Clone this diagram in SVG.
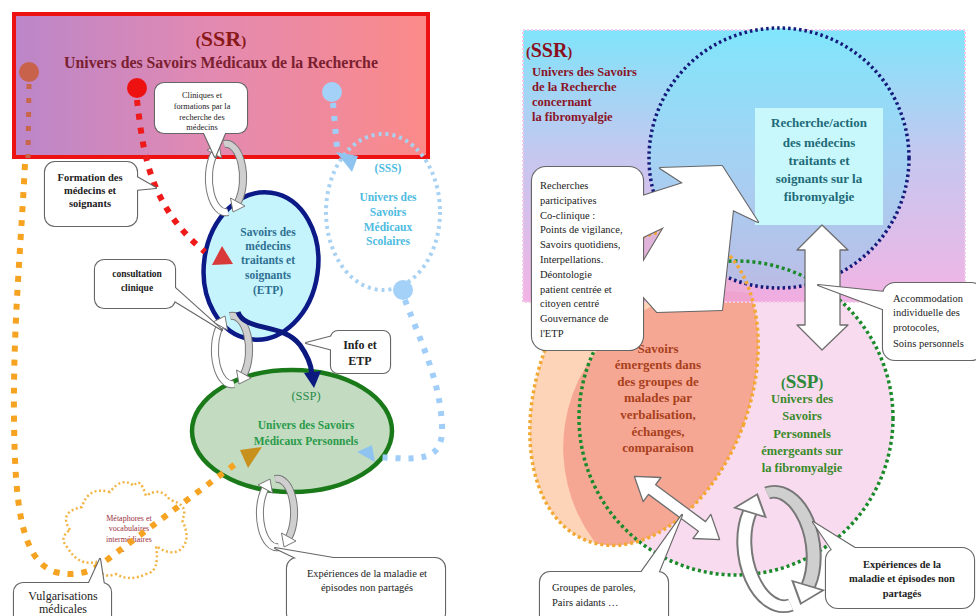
<svg xmlns="http://www.w3.org/2000/svg" width="976" height="616" viewBox="0 0 976 616">
<style>
text{font-family:"Liberation Serif","Times New Roman",serif}
.b{font-weight:bold}
.cs{fill:#fff;stroke:#666;stroke-width:2.2;stroke-linejoin:round}
.cf{fill:#fff;stroke:none}
.ct{fill:#222}
.dA{fill:#fff;stroke:#6e6e6e;stroke-width:1.3;stroke-linejoin:round}
.dot{fill:none}
</style>
<defs>
<linearGradient id="gSSR" x1="0" y1="0" x2="1" y2="0">
<stop offset="0" stop-color="#bb86c9"/><stop offset="0.5" stop-color="#e48ab0"/><stop offset="1" stop-color="#fb8a88"/>
</linearGradient>
<linearGradient id="gR" x1="0" y1="0" x2="0" y2="1">
<stop offset="0" stop-color="#60ddf9"/><stop offset="0.45" stop-color="#b5baec"/><stop offset="1" stop-color="#efa1dd"/>
</linearGradient>
<linearGradient id="gNavy" gradientUnits="userSpaceOnUse" x1="0" y1="28" x2="0" y2="288">
<stop offset="0" stop-color="#80e6fb"/><stop offset="0.5" stop-color="#9ed4f4"/><stop offset="1" stop-color="#b2bee6"/>
</linearGradient>
<clipPath id="cpGreen"><circle cx="736" cy="418" r="157"/></clipPath>
<g id="cyc">
<path d="M-2 -34 A17 34 0 0 1 12 24" fill="none" stroke="#777" stroke-width="8"/>
<path d="M-2 -34 A17 34 0 0 1 12 24" fill="none" stroke="#cfcfcf" stroke-width="6"/>
<polygon points="7,34 19,28 4.5,20" fill="#fff" stroke="#777" stroke-width="1"/>
<path d="M2 34 A17 34 0 0 1 -12 -24" fill="none" stroke="#777" stroke-width="8"/>
<path d="M2 34 A17 34 0 0 1 -12 -24" fill="none" stroke="#fff" stroke-width="6"/>
<polygon points="-7,-34 -4.5,-20 -19,-28" fill="#fff" stroke="#777" stroke-width="1"/>
</g>
</defs>
<rect width="976" height="616" fill="#fff"/>

<!-- ================= LEFT PANEL ================= -->
<g id="n-ssr-left">
<rect x="14" y="14" width="414" height="143" fill="url(#gSSR)" stroke="#ee1111" stroke-width="4"/>
<text x="221" y="46" text-anchor="middle" class="b" font-size="22" fill="#8a1a1a"><tspan font-size="15">(</tspan>SSR<tspan font-size="15">)</tspan></text>
<text x="221" y="68" text-anchor="middle" class="b" font-size="15.8" fill="#7a2030">Univers des Savoirs Médicaux de la Recherche</text>
<circle cx="29" cy="72" r="10" fill="#c8624a"/>
<circle cx="137" cy="88" r="10" fill="#ee1111"/>
<circle cx="332" cy="92" r="10" fill="#a3d1f8"/>
</g>

<g id="n-sss">
<ellipse cx="383" cy="212" rx="57" ry="78" fill="none" stroke="#a9d2f2" stroke-width="4" stroke-dasharray="3 4"/>
<circle cx="403" cy="290" r="10" fill="#a3d1f8"/>
<g class="b" font-size="11.5" fill="#4ebbe0" text-anchor="middle">
<text x="388" y="172">(SSS)</text>
<text x="388" y="201">Univers des</text>
<text x="388" y="216">Savoirs</text>
<text x="388" y="231">Médicaux</text>
<text x="388" y="245">Scolaires</text>
</g>
</g>

<g id="n-etp">
<ellipse cx="261" cy="266" rx="57" ry="74" transform="rotate(8 261 266)" fill="#c6f4fc" stroke="#0c1a88" stroke-width="4.5"/>
<g class="b" font-size="11.5" fill="#2e7092" text-anchor="middle">
<text x="268" y="236">Savoirs des</text>
<text x="268" y="250">médecins</text>
<text x="268" y="264">traitants et</text>
<text x="268" y="279">soignants</text>
<text x="268" y="294">(ETP)</text>
</g>
</g>

<g id="n-ssp-left">
<ellipse cx="292" cy="431" rx="100" ry="61" fill="#c3dcc1" stroke="#1a7a1a" stroke-width="4.5"/>
<text x="306" y="400" text-anchor="middle" font-size="12.5" fill="#2a8a4a">(SSP)</text>
<text x="306" y="429" text-anchor="middle" class="b" font-size="11.5" fill="#2a9a4a">Univers des Savoirs</text>
<text x="306" y="445" text-anchor="middle" class="b" font-size="11.5" fill="#2a9a4a">Médicaux  Personnels</text>
</g>

<g id="n-metaphores">
<path d="M70 530 Q58 512 82 507 Q88 486 110 492 Q122 476 134 486 Q140 476 146 496 Q160 486 170 500 Q190 505 182 520 Q192 540 180 550 Q170 556 156 546 Q160 572 146 574 Q130 582 116 574 Q100 580 96 562 Q78 566 68 548 Q58 538 70 530 Z" fill="none" stroke="#f2b445" stroke-width="2.5" stroke-dasharray="2 2.5"/>
<g font-size="8" fill="#9a3040" text-anchor="middle">
<text x="129" y="521">Métaphores et</text>
<text x="129" y="531">vocabulaires</text>
<text x="129" y="542">intermédiaires</text>
<text x="123" y="554">-</text>
</g>
</g>

<g id="left-cycles">
<use href="#cyc" transform="translate(226,178)"/>
<use href="#cyc" transform="translate(232,350)"/>
<use href="#cyc" transform="translate(277,513)"/>
</g>

<g id="connectors-left">
<path d="M29 84 L28 158" class="dot" stroke="#c8664c" stroke-width="5" stroke-dasharray="5 9"/>
<path d="M25 164 C20 260 13 330 14 420 C15 500 20 560 55 572 C80 578 95 570 112 556 L238 462" class="dot" stroke="#f5a321" stroke-width="6" stroke-dasharray="6 8"/>
<polygon points="240,450 262,447 248,468" fill="#c8901c"/>
<path d="M137 100 C143 150 148 205 205 252" class="dot" stroke="#ee1a1a" stroke-width="6" stroke-dasharray="6 8"/>
<polygon points="212,265 222,246 233,264" fill="#d83a3a"/>
<path d="M333 103 L337 148" class="dot" stroke="#a0cef8" stroke-width="6" stroke-dasharray="5 8"/>
<polygon points="336,152 358,156 352,172" fill="#90c4f0"/>
<path d="M405 300 C420 340 440 380 442 425 C444 462 420 460 378 457" class="dot" stroke="#a0cef8" stroke-width="6" stroke-dasharray="5 8"/>
<polygon points="357,452 372,445 375,462" fill="#90c4f0"/>
<path d="M238 312 C245 332 282 322 300 345 C308 356 311 364 312 374" fill="none" stroke="#0c1a80" stroke-width="5"/>
<polygon points="304,373 321,371 314,388" fill="#0c1a80"/>
</g>

<g id="c-cliniques">
<rect class="cs" x="155" y="83" width="92" height="50" rx="9"/>
<polygon class="cs" points="203,131 215,157 226,131"/>
<rect class="cf" x="155" y="83" width="92" height="50" rx="9"/>
<polygon class="cf" points="203,131 215,157 226,131"/>
<g font-size="8.3" class="ct" text-anchor="middle">
<text x="202" y="98">Cliniques et</text>
<text x="202" y="109">formations par la</text>
<text x="202" y="120">recherche des</text>
<text x="202" y="130">médecins</text>
</g>
</g>

<g id="c-formation">
<rect class="cs" x="45" y="162" width="92" height="64" rx="10"/>
<polygon class="cs" points="135,176 156,188 135,190"/>
<rect class="cf" x="45" y="162" width="92" height="64" rx="10"/>
<polygon class="cf" points="135,176 156,188 135,190"/>
<g font-size="10.5" class="b ct" text-anchor="middle">
<text x="90" y="181">Formation des</text>
<text x="90" y="194">médecins et</text>
<text x="90" y="207">soignants</text>
</g>
</g>

<g id="c-consultation">
<rect class="cs" x="95" y="260" width="80" height="48" rx="9"/>
<polygon class="cs" points="173,286 222,330 173,300"/>
<rect class="cf" x="95" y="260" width="80" height="48" rx="9"/>
<polygon class="cf" points="173,286 222,330 173,300"/>
<g font-size="9.5" class="b ct" text-anchor="middle">
<text x="137" y="277">consultation</text>
<text x="137" y="291">clinique</text>
</g>
</g>

<g id="c-info">
<rect class="cs" x="331" y="331" width="59" height="42" rx="7"/>
<polygon class="cs" points="333,336 306,343 333,350"/>
<rect class="cf" x="331" y="331" width="59" height="42" rx="7"/>
<polygon class="cf" points="333,336 306,343 333,350"/>
<g font-size="12" class="b ct" text-anchor="middle">
<text x="360" y="349">Info et</text>
<text x="360" y="365">ETP</text>
</g>
</g>

<g id="c-vulgarisations">
<rect class="cs" x="14" y="583" width="97" height="45" rx="9"/>
<polygon class="cs" points="88,585 100,559 104,585"/>
<rect class="cf" x="14" y="583" width="97" height="45" rx="9"/>
<polygon class="cf" points="88,585 100,559 104,585"/>
<g font-size="12" class="ct" text-anchor="middle">
<text x="63" y="600">Vulgarisations</text>
<text x="63" y="613">médicales</text>
</g>
</g>

<g id="c-experiences-left">
<rect class="cs" x="287" y="558" width="158" height="65" rx="10"/>
<polygon class="cs" points="300,560 275,548 345,560"/>
<rect class="cf" x="287" y="558" width="158" height="65" rx="10"/>
<polygon class="cf" points="300,560 275,548 345,560"/>
<g font-size="10.5" class="ct" text-anchor="middle">
<text x="367" y="577">Expériences de la maladie et</text>
<text x="367" y="591">épisodes non partagés</text>
</g>
</g>

<!-- ================= RIGHT PANEL ================= -->
<g id="n-ssp-right-fill">
<circle cx="736" cy="418" r="157" fill="#f9dbef"/>
</g>
<g id="n-savoirs-emergents-fill">
<ellipse cx="644" cy="388" rx="106" ry="163" transform="rotate(20 644 388)" fill="#fdd4b8"/>
<ellipse cx="644" cy="388" rx="106" ry="163" transform="rotate(20 644 388)" fill="#f6a794" clip-path="url(#cpGreen)"/>
</g>
<g id="n-ssr-right">
<rect x="523" y="30" width="442" height="272" fill="url(#gR)" opacity="0.8"/>
<rect x="523" y="30" width="442" height="272" fill="none" stroke="#f4c8e8" stroke-width="2" stroke-dasharray="2 2"/>
<text x="526" y="57" class="b" font-size="20" fill="#8a1020"><tspan font-size="14">(</tspan>SSR<tspan font-size="14">)</tspan></text>
<g class="b" font-size="12.5" fill="#8a1428">
<text x="532" y="76">Univers des Savoirs</text>
<text x="532" y="91">de la Recherche</text>
<text x="532" y="106">concernant</text>
<text x="532" y="121">la fibromyalgie</text>
</g>
</g>
<g id="n-recherche-circle">
<circle cx="779" cy="158" r="130" fill="url(#gNavy)" opacity="0.85"/>
</g>
<g id="n-recherche">
<rect x="755" y="108" width="128" height="117" fill="#c8f8fc"/>
<g class="b" font-size="13" fill="#1e6a78" text-anchor="middle">
<text x="819" y="127">Recherche/action</text>
<text x="819" y="147">des médecins</text>
<text x="819" y="165">traitants et</text>
<text x="819" y="183">soignants  sur la</text>
<text x="819" y="201">fibromyalgie</text>
</g>
</g>
<g id="outlines-right">
<circle cx="779" cy="158" r="130" fill="none" stroke="#141a7a" stroke-width="3.5" stroke-dasharray="2.5 3"/>
<circle cx="736" cy="418" r="157" fill="none" stroke="#1a8a2a" stroke-width="3.5" stroke-dasharray="3 3"/>
<ellipse cx="644" cy="388" rx="106" ry="163" transform="rotate(20 644 388)" fill="none" stroke="#f2a832" stroke-width="3.5" stroke-dasharray="3 3"/>
</g>
<g id="n-savoirs-emergents">
<g class="b" font-size="13" fill="#a8401c" text-anchor="middle">
<text x="658" y="353">Savoirs</text>
<text x="658" y="369">émergents dans</text>
<text x="658" y="386">des groupes de</text>
<text x="658" y="402">malades par</text>
<text x="658" y="419">verbalisation,</text>
<text x="658" y="436">échanges,</text>
<text x="658" y="452">comparaison</text>
</g>
</g>
<g id="n-ssp-right">
<text x="802" y="388" text-anchor="middle" class="b" font-size="19" fill="#2e8a3a"><tspan font-size="14">(</tspan>SSP<tspan font-size="14">)</tspan></text>
<g class="b" font-size="12.5" fill="#3a8a2a" text-anchor="middle">
<text x="802" y="403">Univers des</text>
<text x="802" y="420">Savoirs</text>
<text x="802" y="438">Personnels</text>
<text x="802" y="455">émergeants sur</text>
<text x="802" y="472">la fibromyalgie</text>
</g>
</g>

<g id="connectors-right">
<polygon class="dA" points="822,225 848,250 840,250 840,325 848,325 822,350 797,325 805,325 805,250 797,250"/>
<polygon class="dA" transform="translate(677,508) rotate(36.5)" points="-53,0 -31,-15 -31,-6 31,-6 31,-15 53,0 31,15 31,6 -31,6 -31,15"/>
<use href="#cyc" transform="translate(779,549) rotate(-8) scale(2.0,1.68)"/>
</g>

<g id="c-recherches">
<polygon class="cs" points="636,198 683,183 660,168 722,166 758,222 733,210 722,310 657,312 640,293 643,262 664,227 643,237 636,232"/>
<rect class="cs" x="532" y="167" width="111" height="183" rx="14"/>
<polygon class="cf" points="636,198 683,183 660,168 722,166 758,222 733,210 722,310 657,312 640,293 643,262 664,227 643,237 636,232"/>
<rect class="cf" x="532" y="167" width="111" height="183" rx="14"/>
<g font-size="10.5" class="ct">
<text x="540" y="189">Recherches</text>
<text x="540" y="204">participatives</text>
<text x="540" y="219">Co-clinique :</text>
<text x="540" y="233">Points de vigilance,</text>
<text x="540" y="248">Savoirs quotidiens,</text>
<text x="540" y="263">Interpellations.</text>
<text x="540" y="278">Déontologie</text>
<text x="540" y="293">patient centrée et</text>
<text x="540" y="307">citoyen centré</text>
<text x="540" y="322">Gouvernance de</text>
<text x="540" y="337">l'ETP</text>
</g>
</g>

<g id="c-accommodation">
<rect class="cs" x="883" y="283" width="100" height="77" rx="12"/>
<polygon class="cs" points="885,292 818,285 885,310"/>
<rect class="cf" x="883" y="283" width="100" height="77" rx="12"/>
<polygon class="cf" points="885,292 818,285 885,310"/>
<g font-size="10.5" class="ct">
<text x="893" y="302">Accommodation</text>
<text x="893" y="316">individuelle des</text>
<text x="893" y="331">protocoles,</text>
<text x="893" y="347">Soins personnels</text>
</g>
</g>

<g id="c-groupes">
<rect class="cs" x="540" y="572" width="128" height="60" rx="10"/>
<polygon class="cs" points="640,574 682,515 658,574"/>
<rect class="cf" x="540" y="572" width="128" height="60" rx="10"/>
<polygon class="cf" points="640,574 682,515 658,574"/>
<g font-size="10.5" class="ct">
<text x="552" y="591">Groupes de paroles,</text>
<text x="552" y="606">Pairs aidants …</text>
</g>
</g>

<g id="c-experiences-right">
<rect class="cs" x="826" y="548" width="148" height="60" rx="12"/>
<polygon class="cs" points="832,550 813,522 858,550"/>
<rect class="cf" x="826" y="548" width="148" height="60" rx="12"/>
<polygon class="cf" points="832,550 813,522 858,550"/>
<g font-size="10.5" class="b ct" text-anchor="middle">
<text x="902" y="568">Expériences de la</text>
<text x="902" y="582">maladie et épisodes non</text>
<text x="902" y="597">partagés</text>
</g>
</g>
</svg>
